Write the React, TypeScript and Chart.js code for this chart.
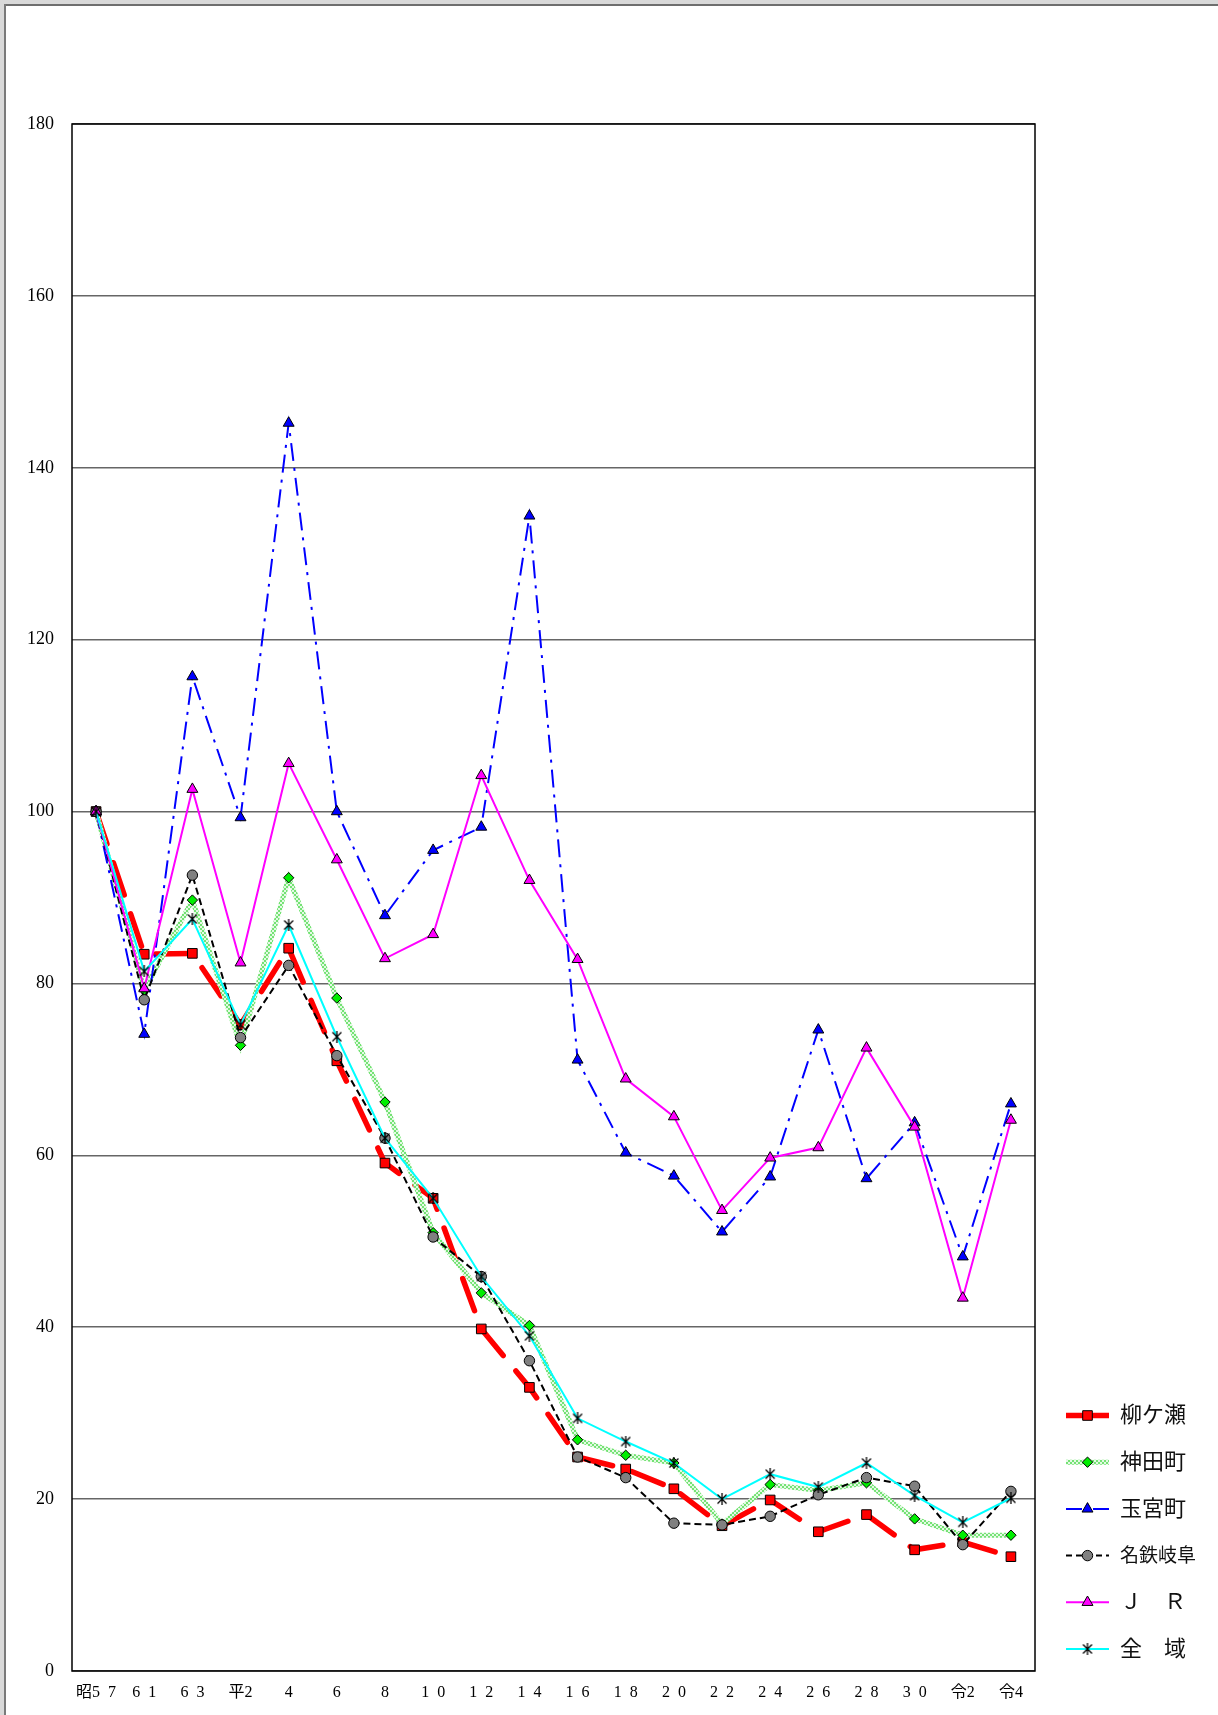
import React, { useEffect, useRef } from 'react';
import { Chart, registerables } from 'chart.js';
import { drawPoint } from 'chart.js/helpers';

Chart.register(...registerables);

const categories = ['昭5\u20027', '6\u20021', '6\u20023', '平2', '4', '6', '8', '1\u20020', '1\u20022', '1\u20024', '1\u20026', '1\u20028', '2\u20020', '2\u20022', '2\u20024', '2\u20026', '2\u20028', '3\u20020', '令2', '令4'];
const seriesNames = ['柳ケ瀬', '神田町', '玉宮町', '名鉄岐阜', 'Ｊ\u3000Ｒ', '全\u3000域'];
const yanagase = [100, 83.4, 83.5, 75.2, 84.1, 71.0, 59.1, 55.0, 39.8, 33.0, 24.9, 23.5, 21.2, 16.9, 19.9, 16.2, 18.2, 14.1, 15.0, 13.3];
const kandamachi = [100, 79.2, 89.7, 72.8, 92.3, 78.3, 66.2, 51.0, 44.0, 40.2, 26.9, 25.1, 24.2, 17.1, 21.7, 21.0, 21.9, 17.7, 15.8, 15.8];
const tamamiyacho = [100, 74.1, 115.7, 99.3, 145.2, 100.0, 87.9, 95.5, 98.2, 134.4, 71.1, 60.3, 57.6, 51.1, 57.5, 74.6, 57.3, 63.8, 48.2, 66.0];
const meitetsuGifu = [100, 78.1, 92.6, 73.7, 82.1, 71.6, 62.0, 50.5, 45.9, 36.1, 24.9, 22.5, 17.2, 17.0, 18.0, 20.5, 22.5, 21.5, 14.7, 20.9];
const jr = [100, 79.4, 102.6, 82.4, 105.6, 94.4, 82.9, 85.7, 104.2, 92.0, 82.8, 68.9, 64.5, 53.6, 59.7, 60.9, 72.5, 63.3, 43.4, 64.1];
const zeniki = [100, 81.4, 87.5, 75.2, 86.8, 73.8, 62.0, 55.0, 45.9, 39.0, 29.4, 26.7, 24.2, 20.0, 22.9, 21.4, 24.2, 20.4, 17.3, 20.1];
const yTickMin = 0;
const yTickMax = 180;
const yTickStep = 20;

const SERIF = '"Liberation Serif", "Noto Sans CJK JP", serif';

function makeAsterisk(): HTMLCanvasElement {
  const c = document.createElement('canvas');
  c.width = 12;
  c.height = 12;
  const g = c.getContext('2d')!;
  g.strokeStyle = '#000';
  g.lineWidth = 1.3;
  g.beginPath();
  g.moveTo(1.5, 1.5); g.lineTo(10.5, 10.5);
  g.moveTo(10.5, 1.5); g.lineTo(1.5, 10.5);
  g.moveTo(6, 0); g.lineTo(6, 12);
  g.stroke();
  return c;
}

function makeGreenPattern(ctx: CanvasRenderingContext2D): CanvasPattern | string {
  const c = document.createElement('canvas');
  c.width = 4;
  c.height = 4;
  const g = c.getContext('2d')!;
  g.fillStyle = '#e4fae4';
  g.fillRect(0, 0, 4, 4);
  g.fillStyle = '#74e274';
  g.fillRect(0, 0, 2, 2);
  g.fillRect(2, 2, 2, 2);
  return ctx.createPattern(c, 'repeat') || '#88e888';
}

const framePlugin = {
  id: 'frameBox',
  beforeDatasetsDraw(chart: any) {
    const { ctx, chartArea: a } = chart;
    ctx.save();
    ctx.strokeStyle = '#000';
    ctx.lineWidth = 1.5;
    ctx.strokeRect(a.left, a.top, a.right - a.left, a.bottom - a.top);
    ctx.restore();
  },
};

const legendPlugin = {
  id: 'sideLegend',
  afterDraw(chart: any) {
    const { ctx, chartArea: a } = chart;
    const x0 = a.right + 31;
    const x1 = a.right + 74;
    const tx = a.right + 85;
    const step = 46.7;
    const y0 = a.bottom - 255.5;
    chart.data.datasets.forEach((ds: any, i: number) => {
      const y = y0 + i * step;
      ctx.save();
      ctx.strokeStyle = ds.borderColor;
      ctx.lineWidth = ds.borderWidth;
      ctx.lineCap = 'butt';
      ctx.setLineDash(ds.legendDash || []);
      ctx.beginPath();
      ctx.moveTo(x0, y);
      ctx.lineTo(x1, y);
      ctx.stroke();
      ctx.setLineDash([]);
      ctx.fillStyle = ds.pointBackgroundColor;
      ctx.strokeStyle = ds.pointBorderColor;
      ctx.lineWidth = ds.pointBorderWidth;
      drawPoint(ctx, { pointStyle: ds.pointStyle, rotation: 0, radius: ds.pointRadius, borderWidth: ds.pointBorderWidth } as any, (x0 + x1) / 2, y);
      ctx.restore();
      ctx.save();
      let size = 22;
      ctx.font = `${size}px ${SERIF}`;
      const maxW = 80;
      const w = ctx.measureText(ds.label).width;
      if (w > maxW) {
        size = Math.floor(size * maxW / w);
        ctx.font = `${size}px ${SERIF}`;
      }
      ctx.fillStyle = '#111';
      ctx.textBaseline = 'middle';
      ctx.textAlign = 'left';
      ctx.fillText(ds.label, tx, y + 1);
      ctx.restore();
    });
  },
};

export default function App() {
  const ref = useRef<HTMLCanvasElement>(null);
  useEffect(() => {
    const canvas = ref.current!;
    const ctx = canvas.getContext('2d')!;
    const star = makeAsterisk();
    const greenPat = makeGreenPattern(ctx);
    const chart = new Chart(canvas, {
      type: 'line',
      data: {
        labels: categories,
        datasets: [
          {
            label: seriesNames[0], data: yanagase, order: 5,
            borderColor: '#ff0000', borderWidth: 5.5, borderDash: [34, 20], borderCapStyle: 'round',
            legendDash: [],
            pointStyle: 'rect', pointRadius: 6.8, pointBackgroundColor: '#ff0000', pointBorderColor: '#000', pointBorderWidth: 1,
          } as any,
          {
            label: seriesNames[1], data: kandamachi, order: 4,
            borderColor: greenPat, borderWidth: 5,
            legendDash: [],
            pointStyle: 'rectRot', pointRadius: 5.2, pointBackgroundColor: '#00ee00', pointBorderColor: '#000', pointBorderWidth: 1,
          } as any,
          {
            label: seriesNames[2], data: tamamiyacho, order: 3,
            borderColor: '#0000ff', borderWidth: 2, borderDash: [18, 7, 3, 7],
            legendDash: [16, 11],
            pointStyle: 'triangle', pointRadius: 6.3, pointBackgroundColor: '#0000ff', pointBorderColor: '#000', pointBorderWidth: 1,
          } as any,
          {
            label: seriesNames[3], data: meitetsuGifu, order: 2,
            borderColor: '#000000', borderWidth: 2, borderDash: [7, 4],
            legendDash: [6, 4],
            pointStyle: 'circle', pointRadius: 5.2, pointBackgroundColor: '#808080', pointBorderColor: '#000', pointBorderWidth: 1,
          } as any,
          {
            label: seriesNames[4], data: jr, order: 1,
            borderColor: '#ff00ff', borderWidth: 2,
            legendDash: [],
            pointStyle: 'triangle', pointRadius: 6.3, pointBackgroundColor: '#ff00ff', pointBorderColor: '#000', pointBorderWidth: 1,
          } as any,
          {
            label: seriesNames[5], data: zeniki, order: 0,
            borderColor: '#00ffff', borderWidth: 2,
            legendDash: [],
            pointStyle: star, pointRadius: 6, pointBackgroundColor: '#000', pointBorderColor: '#000', pointBorderWidth: 1,
          } as any,
        ],
      },
      options: {
        responsive: false,
        animation: false,
        devicePixelRatio: window.devicePixelRatio || 1,
        layout: { padding: { top: 124, right: 183, left: 0, bottom: 0 } },
        elements: { line: { tension: 0, fill: false } },
        plugins: { legend: { display: false }, tooltip: { enabled: false }, title: { display: false } },
        scales: {
          x: {
            type: 'category',
            offset: true,
            grid: { display: false, drawTicks: false },
            border: { display: false },
            ticks: { autoSkip: false, maxRotation: 0, minRotation: 0, color: '#000', padding: 12, font: { family: SERIF, size: 16 } },
            afterFit: (s: any) => { s.height = 44; },
          },
          y: {
            min: yTickMin,
            max: yTickMax,
            grid: { color: '#666', lineWidth: 1.5, drawTicks: false },
            border: { display: false },
            ticks: { stepSize: yTickStep, color: '#000', padding: 18, font: { family: SERIF, size: 18 } },
            afterFit: (s: any) => { s.width = 72; },
          },
        },
      } as any,
      plugins: [framePlugin, legendPlugin],
    });
    return () => chart.destroy();
  }, []);

  return (
    <div style={{ position: 'absolute', left: 0, top: 0, width: 1218, height: 1715, background: '#fff', overflow: 'hidden' }}>
      <canvas ref={ref} width={1218} height={1715} style={{ position: 'absolute', left: 0, top: 0, width: 1218, height: 1715 }} />
      <div style={{ position: 'absolute', left: 0, top: 0, width: 1218, height: 4, background: '#d9d9d9' }} />
      <div style={{ position: 'absolute', left: 0, top: 4, width: 1218, height: 2, background: '#6e6e6e' }} />
      <div style={{ position: 'absolute', left: 0, top: 0, width: 4, height: 1715, background: '#d9d9d9' }} />
      <div style={{ position: 'absolute', left: 4, top: 4, width: 2, height: 1711, background: '#7a7a7a' }} />
    </div>
  );
}
